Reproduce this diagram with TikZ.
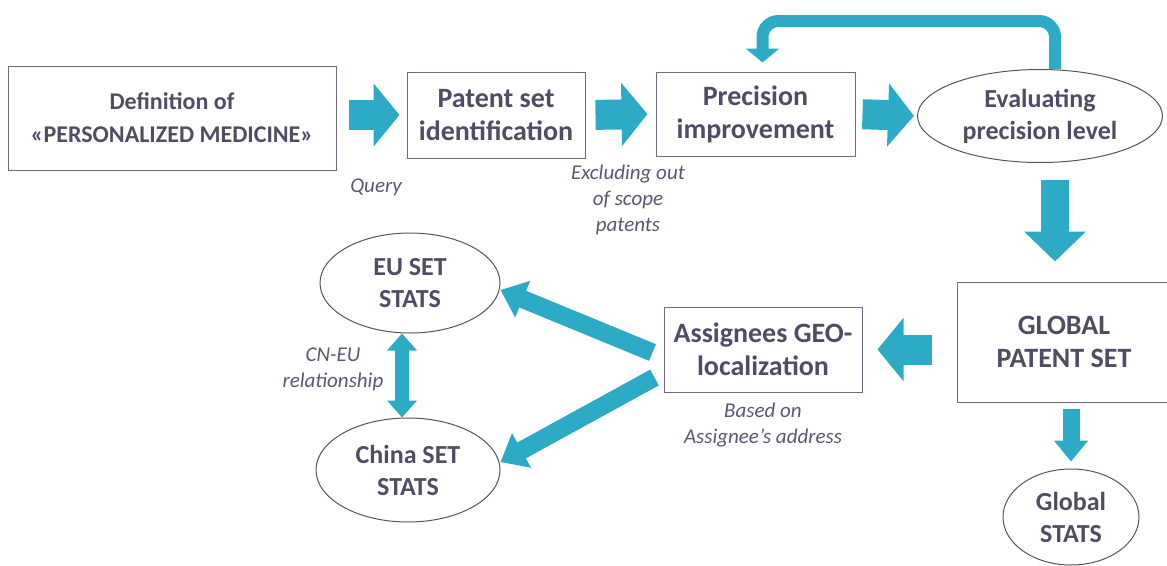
\documentclass[tikz,border=0pt]{standalone}
\usepackage{fontspec}
\setmainfont{Carlito}
\usetikzlibrary{arrows.meta,shapes.geometric}

\definecolor{teal}{HTML}{2DAAC6}
\definecolor{txt}{HTML}{4E4D63}
\definecolor{notetxt}{HTML}{5A5870}
\definecolor{boxline}{HTML}{6E6B80}
\definecolor{ellline}{HTML}{555555}

\tikzset{
    box/.style={draw=boxline, line width=1pt, align=center, text=txt,
        font=\bfseries\fontsize{28}{33}\selectfont, inner sep=0pt},
    oval/.style={ellipse, draw=ellline, line width=1pt, align=center, text=txt,
        font=\bfseries\fontsize{26}{32}\selectfont, inner sep=0pt},
    note/.style={align=center, text=notetxt, font=\itshape\fontsize{21}{26}\selectfont},
    fat/.style={draw=teal, line width=30pt, -{Triangle[length=26pt, width=62pt]}},
    diag/.style={draw=teal, line width=18pt, -{Triangle[length=24pt, width=38pt]}}
}

\begin{document}
\begin{tikzpicture}[x=1pt, y=-1pt]
    \useasboundingbox (0,0) rectangle (1167,565);

    % top row
    \node[box, minimum width=328pt, minimum height=104pt,
          font=\bfseries\fontsize{24}{33}\selectfont] (def) at (172,118)
          {Definition of\\«PERSONALIZED MEDICINE»};
    \node[box, minimum width=178pt, minimum height=86pt] (ident) at (496,115) {Patent set\\identification};
    \node[box, minimum width=199pt, minimum height=84pt] (prec) at (755.5,114) {Precision\\improvement};
    \node[oval, minimum width=245pt, minimum height=93pt] (eval) at (1040,116) {Evaluating\\precision level};

    % right column
    \node[box, minimum width=214pt, minimum height=120pt] (glob) at (1064,342) {GLOBAL\\PATENT SET};
    \node[oval, minimum width=136pt, minimum height=96pt] (gstats) at (1071,517) {Global\\STATS};

    % bottom row
    \node[box, minimum width=198pt, minimum height=85pt] (geo) at (763,349.5) {Assignees GEO-\\localization};
    \node[oval, minimum width=180pt, minimum height=100pt] (eu) at (410,283) {EU SET\\STATS};
    \node[oval, minimum width=184pt, minimum height=104pt] (china) at (408,470) {China SET\\STATS};

    % notes
    \node[note] (query) at (376,187) {Query};
    \node[note] (excl) at (628,200) {Excluding out\\of scope\\patents};
    \node[note] (based) at (763,425) {Based on\\Assignee’s address};
    \node[note] (cneu) at (333,369) {CN-EU\\relationship};

    % arrows
    \draw[fat, shorten <=12pt, shorten >=7pt] (def.east |- ident.west) -- (ident.west);
    \draw[fat, shorten <=10pt, shorten >=8pt] (ident.east) -- (prec.west);
    \draw[fat, shorten <=7pt, shorten >=3pt] (prec.east) -- (eval.west);
    \draw[fat, line width=28pt, -{Triangle[length=30pt, width=60pt]}, shorten <=17pt, shorten >=20pt]
        ([xshift=15pt]eval.south) -- ([xshift=15pt]eval.south |- glob.north);
    \draw[fat, shorten <=25pt, shorten >=15pt] (glob.west |- geo.east) -- (geo.east);
    \draw[fat, line width=17pt, -{Triangle[length=21pt, width=33pt]}, shorten <=6pt, shorten >=7pt]
        (glob.south -| gstats.north) -- (gstats.north);
    \draw[draw=teal, line width=12pt, rounded corners=16pt, -{Triangle[length=14pt, width=33pt]}, shorten >=9pt]
        ([xshift=15pt]eval.north) -- ++(0,-48) -| ([xshift=7pt]prec.north);
    \draw[diag] ([xshift=-11pt,yshift=-3pt]geo.west) -- ([yshift=-7pt]eu.east);
    \draw[diag] ([xshift=-9pt,yshift=-28pt]geo.west) -- ([yshift=8pt]china.east);
    \draw[draw=teal, line width=14pt, {Triangle[length=17pt, width=29pt]}-{Triangle[length=17pt, width=29pt]}]
        ([xshift=-8pt]eu.south) -- ([xshift=-8pt]eu.south |- china.north);
\end{tikzpicture}
\end{document}
